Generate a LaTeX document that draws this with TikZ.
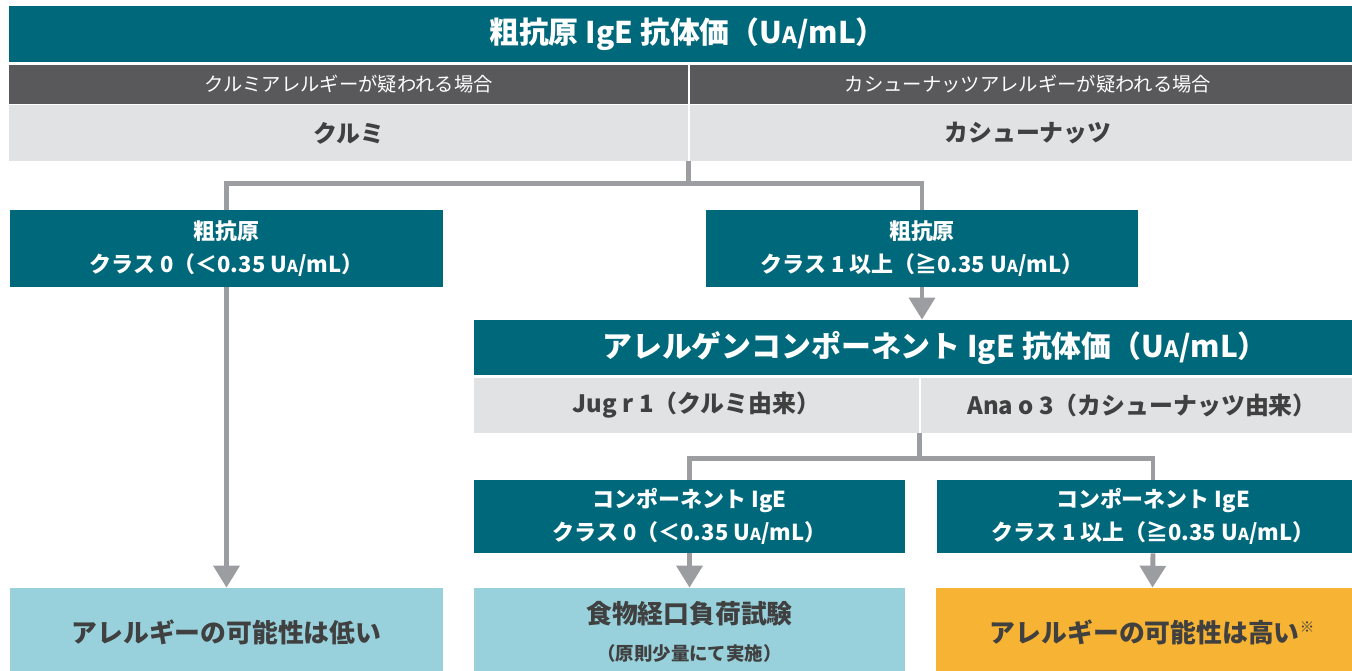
\documentclass[tikz,border=0pt]{standalone}
\usepackage{fontspec}
\setmainfont{Noto Sans CJK JP}
\usepackage{graphicx}
\usetikzlibrary{arrows.meta}

\definecolor{hdteal}{HTML}{00687B}
\definecolor{subgrey}{HTML}{59595B}
\definecolor{rowgrey}{HTML}{E1E2E4}
\definecolor{lngrey}{HTML}{9C9DA1}
\definecolor{resblue}{HTML}{98D1DC}
\definecolor{resorange}{HTML}{F6B334}
\definecolor{txtgrey}{HTML}{404040}

\newcommand{\unitUA}{U\scalebox{0.75}{A}}

\begin{document}
\begin{tikzpicture}[x=0.02cm,y=-0.02cm,
  tealbox/.style={fill=hdteal,text=white,inner sep=0pt,align=center},
  subbox/.style={fill=subgrey,text=white,inner sep=0pt,font=\fontsize{11}{13}\selectfont},
  greybox/.style={fill=rowgrey,text=txtgrey,inner sep=0pt,font=\fontsize{13.6}{16}\selectfont\bfseries},
  resbox/.style={text=txtgrey,inner sep=0pt,align=center,font=\fontsize{14.7}{18}\selectfont\bfseries},
  conn/.style={draw=lngrey,line width=2.8pt},
  connarrow/.style={conn,-{Triangle[width=14.5pt,length=12.5pt]}}]

\useasboundingbox (0,0) rectangle (1352,670);
\clip (0,0) rectangle (1352,670);

\node (title) at (687.5,34)[tealbox,minimum width=27.14cm,minimum height=1.12cm,font=\fontsize{17}{20}\selectfont\bfseries]{粗抗原 IgE 抗体価（\unitUA/mL）};

\node (ls) at (348.5,84.5)[subbox,minimum width=13.58cm,minimum height=0.78cm]{クルミアレルギーが疑われる場合};
\node (ks) at (1028,84.5)[subbox,minimum width=13.52cm,minimum height=0.78cm]{カシューナッツアレルギーが疑われる場合};

\node (lw) at (348.5,133)[greybox,minimum width=13.58cm,minimum height=1.12cm]{クルミ};
\node (kw) at (1028,133)[greybox,minimum width=13.52cm,minimum height=1.12cm]{カシューナッツ};

\node (cls0) at (226.5,248.5)[tealbox,minimum width=8.66cm,minimum height=1.54cm,font=\fontsize{12.5}{19}\selectfont\bfseries]{粗抗原\\クラス 0（＜0.35 \unitUA/mL）};
\node (cls1) at (922,248.5)[tealbox,minimum width=8.64cm,minimum height=1.54cm,font=\fontsize{12.5}{19}\selectfont\bfseries]{粗抗原\\クラス 1 以上（≧0.35 \unitUA/mL）};

\node (comp) at (935,347.5)[tealbox,minimum width=18.44cm,minimum height=1.1cm,font=\fontsize{17}{20}\selectfont\bfseries]{アレルゲンコンポーネント IgE 抗体価（\unitUA/mL）};

\node (jr) at (696.5,405.5)[greybox,minimum width=8.9cm,minimum height=1.1cm]{Jug r 1（クルミ由来）};
\node (ar) at (1142,405.5)[greybox,minimum width=8.84cm,minimum height=1.1cm]{Ana o 3（カシューナッツ由来）};

\node (cc0) at (689.5,516.5)[tealbox,minimum width=8.62cm,minimum height=1.46cm,font=\fontsize{12.5}{19}\selectfont\bfseries]{コンポーネント IgE\\クラス 0（＜0.35 \unitUA/mL）};
\node (cc1) at (1153,516.5)[tealbox,minimum width=8.64cm,minimum height=1.46cm,font=\fontsize{12.5}{19}\selectfont\bfseries]{コンポーネント IgE\\クラス 1 以上（≧0.35 \unitUA/mL）};

\node (lo) at (226.5,632)[resbox,fill=resblue,minimum width=8.66cm,minimum height=1.76cm]{アレルギーの可能性は低い};
\node (ofc) at (689.5,632)[resbox,fill=resblue,minimum width=8.62cm,minimum height=1.76cm]{\raisebox{3pt}{食物経口負荷試験}\\[0pt]{\fontsize{10.5}{12}\selectfont （原則少量にて実施）}};
\node (hi) at (1152.5,632)[resbox,fill=resorange,minimum width=8.66cm,minimum height=1.76cm]{アレルギーの可能性は高い\textsuperscript{\scalebox{0.8}{※}}};

\coordinate (split1) at ([yshift=-0.44cm]lw.south east);
\coordinate (split2) at ([yshift=-0.5cm]jr.south east);

\draw[conn] (lw.south east) -- (split1);
\draw[conn] (cls0.north) |- (split1) -| (cls1.north);
\draw[connarrow] (cls0.south) -- (lo.north);
\draw[connarrow] (cls1.south) -- (cls1.south |- comp.north);

\draw[conn] (jr.south east) -- (split2);
\draw[conn] (cc0.north) |- (split2) -| (cc1.north);
\draw[connarrow] (cc0.south) -- (ofc.north);
\draw[connarrow] (cc1.south) -- (hi.north);

\end{tikzpicture}
\end{document}
